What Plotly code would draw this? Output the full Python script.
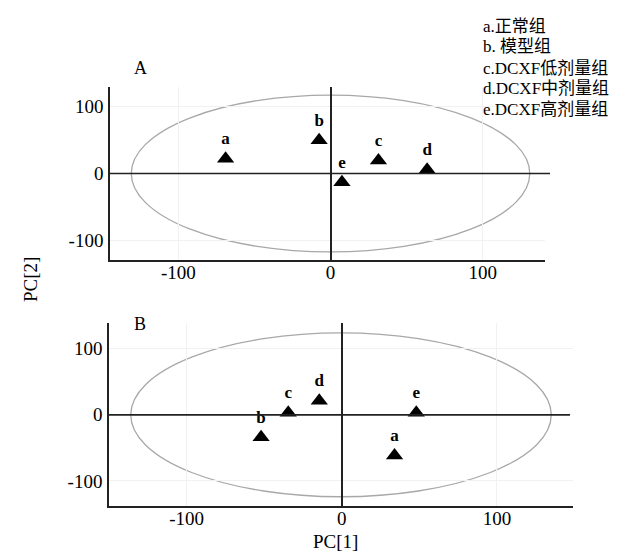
import plotly.graph_objects as go

# ---- data ----
labels = ["a", "b", "c", "d", "e"]
legend_lines = ["a.正常组", "b. 模型组", "c.DCXF低剂量组", "d.DCXF中剂量组", "e.DCXF高剂量组"]

a_x = [-69, -7.5, 31.5, 63.5, 7.5]
a_y = [22, 49.5, 19.5, 5.5, -13]

b_x = [34, -52, -34.5, -14.5, 48]
b_y = [-61.5, -34, 3, 21.5, 3]

tick_vals = [-100, 0, 100]
tick_text = ["-100", "0", "100"]

ellipse_a = [-131, -117, 131, 117]
ellipse_b = [-136, -124, 135, 124]

FONT = "Liberation Serif"
W, H = 620, 552

fig = go.Figure()

for xs, ys, ax in [(a_x, a_y, ("x", "y")), (b_x, b_y, ("x2", "y2"))]:
    fig.add_trace(go.Scatter(
        x=xs, y=ys, mode="markers+text", text=["<b>%s</b>" % t for t in labels],
        textposition="top center",
        textfont=dict(family=FONT, size=17, color="black"),
        marker=dict(symbol="triangle-up", size=15, color="black"),
        xaxis=ax[0], yaxis=ax[1], showlegend=False, cliponaxis=False,
    ))

for (x0, y0, x1, y1), xr, yr in [(ellipse_a, "x", "y"), (ellipse_b, "x2", "y2")]:
    fig.add_shape(type="circle", xref=xr, yref=yr, x0=x0, y0=y0, x1=x1, y1=y1,
                  line=dict(color="#a8a8a8", width=1.3), layer="below")

def px_x(p):
    return p / W

def px_y(p):
    return 1 - p / H

# horizontal zero lines that run slightly past the right end of the x axis
for yr, xl, xrgt in [("y", 102, 542), ("y2", 101, 562)]:
    fig.add_shape(type="line", xref="paper", yref=yr, x0=px_x(xl), x1=px_x(xrgt), y0=0, y1=0,
                  line=dict(color="#222", width=1.6))

axis_common = dict(
    tickvals=tick_vals, ticktext=tick_text, showline=True, linecolor="#222",
    linewidth=1.6, mirror=False, showgrid=True, gridcolor="#f1f1f1",
    ticks="", tickfont=dict(family=FONT, size=19, color="black"),
)

fig.update_layout(
    width=W, height=H, margin=dict(l=0, r=0, t=0, b=0),
    paper_bgcolor="white", plot_bgcolor="white",
    xaxis=dict(axis_common, domain=[px_x(102), px_x(537)], range=[-145, 141], anchor="y",
               zeroline=True, zerolinecolor="#222", zerolinewidth=1.6, ticklabelstandoff=-6),
    yaxis=dict(axis_common, domain=[px_y(252), px_y(79)], range=[-129, 129], anchor="x",
               zeroline=False, ticklabelstandoff=1),
    xaxis2=dict(axis_common, domain=[px_x(101), px_x(565)], range=[-150, 149], anchor="y2",
                zeroline=True, zerolinecolor="#222", zerolinewidth=1.6, ticklabelstandoff=-6),
    yaxis2=dict(axis_common, domain=[px_y(498), px_y(315)], range=[-138, 139], anchor="x2",
                zeroline=False, ticklabelstandoff=1),
)

ann = [
    dict(text="A", x=px_x(132), y=px_y(60), size=18),
    dict(text="B", x=px_x(132), y=px_y(316), size=18),
    dict(text="PC[1]", x=px_x(327), y=px_y(533), size=19),
]
for a in ann:
    fig.add_annotation(xref="paper", yref="paper", x=a["x"], y=a["y"], text=a["text"],
                       showarrow=False, xanchor="center", yanchor="middle",
                       font=dict(family=FONT, size=a["size"], color="black"))

fig.add_annotation(xref="paper", yref="paper", x=px_x(22), y=px_y(272), text="PC[2]",
                   textangle=-90, showarrow=False, xanchor="center", yanchor="middle",
                   font=dict(family=FONT, size=19, color="black"))

legend_y = [18, 39, 60, 81, 102]
for line, ly in zip(legend_lines, legend_y):
    fig.add_annotation(xref="paper", yref="paper", x=px_x(473), y=px_y(ly),
                       text=line, showarrow=False, align="left",
                       xanchor="left", yanchor="middle",
                       font=dict(family=FONT + ", Noto Sans CJK SC", size=17, color="black"))

fig.write_html("out.html")
